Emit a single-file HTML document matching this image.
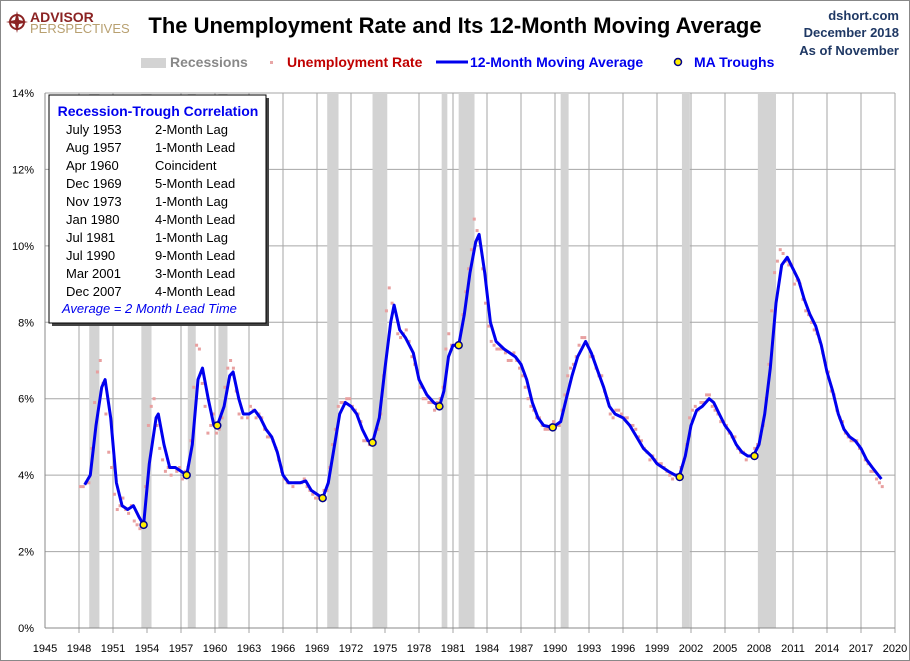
<!DOCTYPE html>
<html><head><meta charset="utf-8"><style>
body{margin:0;background:#fff;}
svg{display:block;font-family:"Liberation Sans",sans-serif;}
</style></head><body>
<svg width="910" height="661" xmlns="http://www.w3.org/2000/svg" id="chart">
<rect x="0.5" y="0.5" width="909" height="660" fill="#fff" stroke="#888"/>
<g>
<circle cx="17" cy="22" r="7" fill="none" stroke="#8b2323" stroke-width="2"/>
<path d="M17 11 L19 20 L28 22 L19 24 L17 33 L15 24 L6 22 L15 20Z" fill="#8b2323"/>
<text x="30" y="22" font-size="14" font-weight="bold" fill="#8b2323">ADVISOR</text>
<text x="30" y="33" font-size="13" fill="#b8a070">PERSPECTIVES</text>
</g>
<text x="455" y="33" font-size="22" font-weight="bold" text-anchor="middle" fill="#000">The Unemployment Rate and Its 12-Month Moving Average</text>
<g font-size="13" font-weight="bold" fill="#1f3864" text-anchor="end">
<text x="899" y="20">dshort.com</text><text x="899" y="37">December 2018</text><text x="899" y="55">As of November</text></g>
<g font-size="14" font-weight="bold">
<g><rect x="141" y="58" width="25" height="10" fill="#d3d3d3"/><text x="170" y="67" fill="#888">Recessions</text></g>
<g><rect x="270" y="61" width="3" height="3" fill="#e8a6a6"/><text x="287" y="67" fill="#c00000">Unemployment Rate</text></g>
<g><line x1="436" y1="62" x2="468" y2="62" stroke="#0000ee" stroke-width="3"/><text x="470" y="67" fill="#0000ee">12-Month Moving Average</text></g>
<g><circle cx="678" cy="62" r="3.5" fill="#ffee00" stroke="#00008b" stroke-width="1.5"/><text x="694" y="67" fill="#0000ee">MA Troughs</text></g>
</g>
<g id="grid"></g>
<g id="rec"></g>
<g id="axes"></g>
<g id="ur"></g>
<g id="ma"></g>
<g id="tr"></g>
<g>
<rect x="52" y="98" width="217" height="228" fill="#444"/>
<rect x="49" y="95" width="217" height="228" fill="#fff" stroke="#000"/>
<text x="158" y="116" font-size="14" font-weight="bold" fill="#0000ee" text-anchor="middle">Recession-Trough Correlation</text>
<g font-size="13" fill="#000" id="tbl"></g>
<text x="62" y="313" font-size="13" font-style="italic" fill="#0000ee">Average = 2 Month Lead Time</text>
</g>
</svg>
<script>
const recessions=[[1948.9,1949.8],[1953.5,1954.4],[1957.6,1958.3],[1960.3,1961.1],[1969.9,1970.9],[1973.9,1975.2],[1980.0,1980.5],[1981.5,1982.9],[1990.5,1991.2],[2001.2,2001.9],[2007.9,2009.5]];
const yTicks=[0,2,4,6,8,10,12,14];
const xTicks=[1945,1948,1951,1954,1957,1960,1963,1966,1969,1972,1975,1978,1981,1984,1987,1990,1993,1996,1999,2002,2005,2008,2011,2014,2017,2020];
const maYears=[1948.5,1949.0,1949.5,1950.0,1950.3,1950.8,1951.3,1951.8,1952.3,1952.8,1953.3,1953.7,1954.2,1954.8,1955.0,1955.5,1956.0,1956.5,1957.0,1957.5,1958.0,1958.5,1958.9,1959.4,1959.9,1960.2,1960.8,1961.3,1961.6,1962.1,1962.5,1963.0,1963.5,1964.0,1964.5,1965.0,1965.5,1966.0,1966.5,1967.0,1967.5,1968.0,1968.5,1969.0,1969.5,1970.0,1970.5,1971.0,1971.5,1972.0,1972.5,1973.0,1973.5,1973.9,1974.5,1975.0,1975.5,1975.8,1976.3,1976.8,1977.5,1978.0,1978.7,1979.3,1979.8,1980.2,1980.6,1981.0,1981.5,1982.0,1982.5,1983.0,1983.3,1983.8,1984.3,1984.8,1985.5,1986.0,1986.5,1987.0,1987.5,1988.0,1988.5,1989.0,1989.8,1990.5,1991.0,1991.5,1992.0,1992.7,1993.2,1993.8,1994.3,1994.8,1995.3,1996.0,1996.6,1997.2,1997.8,1998.5,1999.0,1999.5,2000.0,2000.6,2001.0,2001.5,2002.0,2002.5,2003.0,2003.6,2004.0,2004.5,2005.0,2005.5,2006.0,2006.5,2007.0,2007.5,2008.0,2008.5,2009.0,2009.5,2010.0,2010.5,2011.0,2011.5,2012.0,2012.5,2013.0,2013.5,2014.0,2014.5,2015.0,2015.5,2016.0,2016.5,2017.0,2017.5,2018.0,2018.8];
const maValues=[3.75,4.0,5.3,6.3,6.5,5.5,3.8,3.2,3.1,3.2,2.9,2.7,4.3,5.5,5.6,4.8,4.2,4.2,4.1,4.0,4.8,6.5,6.8,6.0,5.3,5.3,5.8,6.6,6.7,6.0,5.6,5.6,5.7,5.5,5.2,5.0,4.6,4.0,3.8,3.8,3.8,3.85,3.6,3.5,3.4,3.8,4.7,5.6,5.9,5.8,5.6,5.2,4.9,4.85,5.5,6.8,8.0,8.45,7.8,7.6,7.2,6.5,6.1,5.9,5.8,6.2,7.1,7.4,7.4,8.2,9.3,10.1,10.3,9.3,8.0,7.5,7.3,7.2,7.1,6.9,6.5,5.9,5.5,5.3,5.25,5.4,6.0,6.6,7.1,7.5,7.2,6.7,6.3,5.8,5.6,5.5,5.3,5.0,4.7,4.5,4.3,4.2,4.1,4.0,4.0,4.5,5.3,5.7,5.8,6.0,5.9,5.6,5.3,5.1,4.8,4.6,4.5,4.5,4.8,5.6,6.8,8.5,9.5,9.7,9.4,9.1,8.6,8.2,7.9,7.4,6.7,6.2,5.6,5.2,5.0,4.9,4.7,4.4,4.2,3.9];
const troughYears=[1953.7,1957.5,1960.2,1969.5,1973.9,1979.8,1981.5,1989.8,2001.0,2007.6];
const troughValues=[2.7,4.0,5.3,3.4,4.85,5.8,7.4,5.25,3.95,4.5];
const urStart=1948;
const urValues=[3.7,3.7,3.8,3.8,4.7,5.9,6.7,7.0,6.4,5.6,4.6,4.2,3.5,3.1,3.2,3.4,3.1,3.0,3.2,2.8,2.7,2.6,2.7,3.7,5.3,5.8,6.0,5.3,4.7,4.4,4.1,4.2,4.0,4.2,4.1,4.2,3.9,4.1,4.2,4.9,6.3,7.4,7.3,6.4,5.8,5.1,5.3,5.6,5.1,5.2,5.5,6.3,6.8,7.0,6.8,6.2,5.6,5.5,5.6,5.5,5.8,5.7,5.5,5.6,5.5,5.2,5.0,5.0,4.9,4.7,4.4,4.1,3.9,3.8,3.8,3.7,3.8,3.8,3.8,3.9,3.7,3.6,3.5,3.4,3.4,3.4,3.6,3.6,4.2,4.8,5.2,5.8,5.9,5.9,6.0,6.0,5.8,5.7,5.6,5.4,4.9,4.9,4.8,4.8,5.1,5.2,5.6,6.6,8.3,8.9,8.5,8.3,7.7,7.6,7.7,7.8,7.5,7.1,6.9,6.7,6.3,6.0,6.0,5.9,5.9,5.7,5.9,6.0,6.3,7.3,7.7,7.4,7.4,7.4,7.4,8.2,8.8,9.4,9.9,10.7,10.4,10.1,9.4,8.5,7.9,7.5,7.4,7.3,7.3,7.3,7.2,7.0,7.0,7.2,7.0,6.8,6.6,6.3,6.0,5.8,5.7,5.5,5.5,5.3,5.2,5.2,5.3,5.4,5.3,5.3,5.7,6.1,6.6,6.8,6.9,7.1,7.4,7.6,7.6,7.4,7.1,7.1,6.8,6.6,6.6,6.2,6.0,5.6,5.5,5.7,5.7,5.6,5.5,5.5,5.3,5.3,5.2,5.0,4.9,4.7,4.6,4.4,4.5,4.4,4.3,4.3,4.2,4.1,4.0,3.9,4.0,3.9,4.2,4.4,4.8,5.5,5.7,5.8,5.7,5.9,5.9,6.1,6.1,5.8,5.7,5.6,5.4,5.4,5.3,5.1,5.0,5.0,4.7,4.6,4.6,4.4,4.5,4.5,4.7,4.8,5.0,5.3,6.0,6.9,8.3,9.3,9.6,9.9,9.8,9.6,9.5,9.5,9.0,9.1,9.0,8.6,8.3,8.2,8.0,7.8,7.7,7.5,7.2,6.9,6.7,6.2,6.1,5.7,5.5,5.4,5.1,5.0,4.9,4.9,4.9,4.7,4.6,4.4,4.3,4.1,4.1,3.9,3.8,3.7];
const tableDates=["July 1953","Aug 1957","Apr 1960","Dec 1969","Nov 1973","Jan 1980","Jul 1981","Jul 1990","Mar 2001","Dec 2007"];
const tableLeads=["2-Month Lag","1-Month Lead","Coincident","5-Month Lead","1-Month Lag","4-Month Lead","1-Month Lag","9-Month Lead","3-Month Lead","4-Month Lead"];

const NS="http://www.w3.org/2000/svg";
const X0=45,X1=895,Y0=628,Y14=93;
const xs=y=>X0+(y-1945)*(X1-X0)/75;
const ys=v=>Y0-v*(Y0-Y14)/14;
function mk(tag,attrs,parent){const e=document.createElementNS(NS,tag);for(const k in attrs)e.setAttribute(k,attrs[k]);parent.appendChild(e);return e;}
const grid=document.getElementById('grid'),rec=document.getElementById('rec'),axes=document.getElementById('axes');
yTicks.forEach(t=>{
  if(t>0){const l=mk('line',{x1:X0,x2:X1,y1:ys(t),y2:ys(t),stroke:'#a6a6a6','stroke-width':1},grid);
  
  }
  const tx=mk('text',{x:34,y:ys(t)+4,'font-size':11,'text-anchor':'end',fill:'#000'},axes);
  tx.textContent=t+'%';
  
  
});
xTicks.forEach(t=>{
  if(t>1945){const l=mk('line',{x1:xs(t),x2:xs(t),y1:Y14,y2:Y0+5,stroke:'#a6a6a6','stroke-width':1},grid);
  
  }
  const tx=mk('text',{x:xs(t),y:Y0+24,'font-size':11,'text-anchor':'middle',fill:'#000'},axes);
  tx.textContent=t;
  
  
});
const ax=mk('line',{x1:X0,x2:X1,y1:Y0,y2:Y0,stroke:'#888'},axes);


const ay=mk('line',{x1:X0,x2:X0,y1:Y14,y2:Y0,stroke:'#888'},axes);


recessions.forEach(r=>{
  const b=mk('rect',{x:xs(r[0]),y:Y14,width:xs(r[1])-xs(r[0]),height:Y0-Y14,fill:'#d3d3d3'},rec);
  
  
});
const ur=document.getElementById('ur');
urValues.forEach((v,i)=>{
  const yr=urStart+i/4+0.125;
  const p=mk('rect',{x:xs(yr)-1.5,y:ys(v)-1.5,width:3,height:3,fill:'#e8a0a0'},ur);
  
  
});
const d=maYears.map((y,i)=>(i?'L':'M')+xs(y).toFixed(1)+' '+ys(maValues[i]).toFixed(1)).join(' ');
const ml=mk('path',{d:d,fill:'none',stroke:'#0000ee','stroke-width':3,'stroke-linejoin':'round'},document.getElementById('ma'));


troughYears.forEach((y,i)=>{
  const c=mk('circle',{cx:xs(y),cy:ys(troughValues[i]),r:3.5,fill:'#ffee00',stroke:'#00008b','stroke-width':1.5},document.getElementById('tr'));
  
  
});
const tbl=document.getElementById('tbl');
tableDates.forEach((t,i)=>{
  const a=mk('text',{x:66,y:134+i*18},tbl);a.textContent=t;
  
  
  const b=mk('text',{x:155,y:134+i*18},tbl);b.textContent=tableLeads[i];
  
  
});
</script>
</body></html>
